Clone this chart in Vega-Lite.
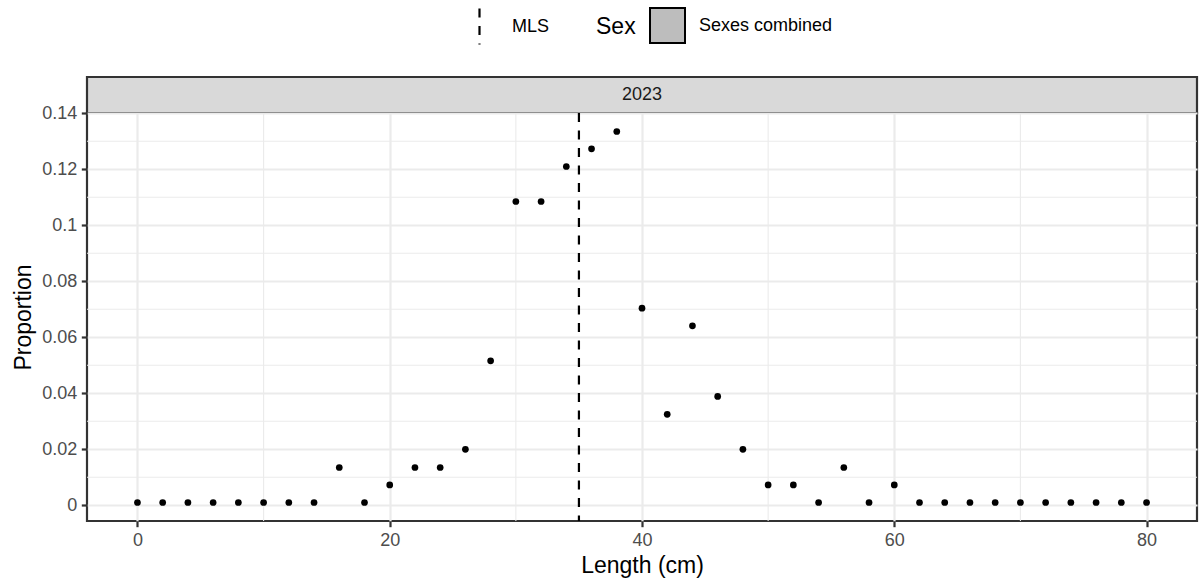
{
  "$schema": "https://vega.github.io/schema/vega-lite/v6.json",
  "padding": {"left": 11, "right": 2, "top": 7, "bottom": 0},
  "background": "white",
  "datasets": {
    "lf": [
      {"length": 0, "prop": 0.001, "sex": "Sexes combined"},
      {"length": 2, "prop": 0.001, "sex": "Sexes combined"},
      {"length": 4, "prop": 0.001, "sex": "Sexes combined"},
      {"length": 6, "prop": 0.001, "sex": "Sexes combined"},
      {"length": 8, "prop": 0.001, "sex": "Sexes combined"},
      {"length": 10, "prop": 0.001, "sex": "Sexes combined"},
      {"length": 12, "prop": 0.001, "sex": "Sexes combined"},
      {"length": 14, "prop": 0.001, "sex": "Sexes combined"},
      {"length": 16, "prop": 0.0135, "sex": "Sexes combined"},
      {"length": 18, "prop": 0.001, "sex": "Sexes combined"},
      {"length": 20, "prop": 0.0073, "sex": "Sexes combined"},
      {"length": 22, "prop": 0.0135, "sex": "Sexes combined"},
      {"length": 24, "prop": 0.0135, "sex": "Sexes combined"},
      {"length": 26, "prop": 0.02, "sex": "Sexes combined"},
      {"length": 28, "prop": 0.0516, "sex": "Sexes combined"},
      {"length": 30, "prop": 0.1085, "sex": "Sexes combined"},
      {"length": 32, "prop": 0.1085, "sex": "Sexes combined"},
      {"length": 34, "prop": 0.121, "sex": "Sexes combined"},
      {"length": 36, "prop": 0.1273, "sex": "Sexes combined"},
      {"length": 38, "prop": 0.1335, "sex": "Sexes combined"},
      {"length": 40, "prop": 0.0704, "sex": "Sexes combined"},
      {"length": 42, "prop": 0.0325, "sex": "Sexes combined"},
      {"length": 44, "prop": 0.0641, "sex": "Sexes combined"},
      {"length": 46, "prop": 0.0389, "sex": "Sexes combined"},
      {"length": 48, "prop": 0.02, "sex": "Sexes combined"},
      {"length": 50, "prop": 0.0073, "sex": "Sexes combined"},
      {"length": 52, "prop": 0.0073, "sex": "Sexes combined"},
      {"length": 54, "prop": 0.001, "sex": "Sexes combined"},
      {"length": 56, "prop": 0.0135, "sex": "Sexes combined"},
      {"length": 58, "prop": 0.001, "sex": "Sexes combined"},
      {"length": 60, "prop": 0.0073, "sex": "Sexes combined"},
      {"length": 62, "prop": 0.001, "sex": "Sexes combined"},
      {"length": 64, "prop": 0.001, "sex": "Sexes combined"},
      {"length": 66, "prop": 0.001, "sex": "Sexes combined"},
      {"length": 68, "prop": 0.001, "sex": "Sexes combined"},
      {"length": 70, "prop": 0.001, "sex": "Sexes combined"},
      {"length": 72, "prop": 0.001, "sex": "Sexes combined"},
      {"length": 74, "prop": 0.001, "sex": "Sexes combined"},
      {"length": 76, "prop": 0.001, "sex": "Sexes combined"},
      {"length": 78, "prop": 0.001, "sex": "Sexes combined"},
      {"length": 80, "prop": 0.001, "sex": "Sexes combined"}
    ],
    "mls": [{"length": 35, "lab": "MLS"}],
    "gx": [{"length": 10}, {"length": 30}, {"length": 50}, {"length": 70}],
    "gy": [{"prop": 0.01}, {"prop": 0.03}, {"prop": 0.05}, {"prop": 0.07}, {"prop": 0.09}, {"prop": 0.11}, {"prop": 0.13}],
    "strip": [{"year": "2023"}]
  },
  "spacing": 0,
  "bounds": "flush",
  "vconcat": [
    {
      "width": 1110,
      "height": 36,
      "view": {"fill": "#D9D9D9", "stroke": "#333333", "strokeWidth": 2.2},
      "data": {"name": "strip"},
      "mark": {"type": "text", "fontSize": 18, "color": "#1A1A1A", "font": "Liberation Sans"},
      "encoding": {"text": {"field": "year", "type": "nominal"}}
    },
    {
      "width": 1110,
      "height": 408,
      "view": {"stroke": "#333333", "strokeWidth": 2.2},
      "layer": [
        {
          "data": {"name": "gx"},
          "mark": {"type": "rule", "color": "#EBEBEB", "strokeWidth": 1.1},
          "encoding": {"x": {"field": "length", "type": "quantitative"}}
        },
        {
          "data": {"name": "gy"},
          "mark": {"type": "rule", "color": "#EBEBEB", "strokeWidth": 1.1},
          "encoding": {"y": {"field": "prop", "type": "quantitative"}}
        },
        {
          "data": {"name": "mls"},
          "mark": {"type": "rule", "strokeDash": [9, 8.5], "strokeWidth": 2.2},
          "encoding": {
            "x": {"field": "length", "type": "quantitative"},
            "color": {
              "field": "lab", "type": "nominal",
              "scale": {"range": ["black"]},
              "legend": {
                "orient": "none", "legendX": 373, "legendY": -70,
                "title": null,
                "symbolType": "M0,-1L0,1", "symbolSize": 1296,
                "symbolDash": [9, 8.5], "symbolStrokeWidth": 2.2,
                "labelFontSize": 18, "labelOffset": 13, "labelColor": "black"
              }
            }
          }
        },
        {
          "data": {"name": "lf"},
          "mark": {"type": "square", "filled": true, "opacity": 1, "size": 0},
          "encoding": {
            "x": {"field": "length", "type": "quantitative"},
            "y": {"field": "prop", "type": "quantitative"},
            "fill": {
              "field": "sex", "type": "nominal",
              "scale": {"range": ["#BDBDBD"]},
              "legend": {
                "orient": "none", "legendX": 509, "legendY": -70,
                "title": "Sex", "titleOrient": "left", "titleFontSize": 23, "titleFontWeight": "normal",
                "titleColor": "black", "titlePadding": 13,
                "symbolType": "square", "symbolSize": 1225,
                "symbolStrokeColor": "black", "symbolStrokeWidth": 2,
                "labelFontSize": 18, "labelOffset": 13, "labelColor": "black"
              }
            }
          }
        },
        {
          "data": {"name": "lf"},
          "mark": {"type": "point", "filled": true, "opacity": 1, "size": 45, "color": "black"},
          "encoding": {
            "x": {
              "field": "length", "type": "quantitative",
              "scale": {"domain": [-4, 84], "nice": false, "zero": false},
              "axis": {"title": "Length (cm)", "values": [0, 20, 40, 60, 80], "titlePadding": 5}
            },
            "y": {
              "field": "prop", "type": "quantitative",
              "scale": {"domain": [-0.0056, 0.1401], "nice": false, "zero": false},
              "axis": {"title": "Proportion", "values": [0, 0.02, 0.04, 0.06, 0.08, 0.1, 0.12, 0.14], "format": "~g", "titlePadding": 6}
            }
          }
        }
      ]
    }
  ],
  "config": {
    "font": "Liberation Sans",
    "axis": {
      "domain": false,
      "grid": true,
      "gridColor": "#EBEBEB",
      "gridWidth": 2.2,
      "tickColor": "#333333",
      "tickWidth": 2.2,
      "tickSize": 5.7,
      "labelColor": "#4D4D4D",
      "labelFontSize": 18,
      "labelPadding": 4.6,
      "labelFont": "Liberation Sans",
      "titleFont": "Liberation Sans",
      "titleFontSize": 23,
      "titleFontWeight": "normal",
      "titleColor": "black"
    },
    "legend": {
      "labelFont": "Liberation Sans",
      "titleFont": "Liberation Sans"
    }
  }
}
